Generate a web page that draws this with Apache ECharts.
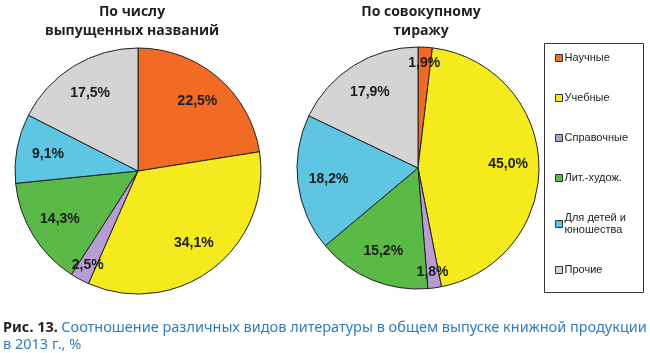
<!DOCTYPE html>
<html><head><meta charset="utf-8">
<script src="https://cdn.jsdelivr.net/npm/echarts@6/dist/echarts.min.js"></script>
<style>html,body{margin:0;padding:0;background:#fff}#c{width:650px;height:353px}</style>
</head><body><div id="c"></div>
<script>
const categories = ['Научные', 'Учебные', 'Справочные', 'Лит.-худож.', 'Для детей и\nюношества', 'Прочие'];
const titlesValues = [22.5, 34.1, 2.5, 14.3, 9.1, 17.5];
const circulationValues = [1.9, 45.0, 1.8, 15.2, 18.2, 17.9];
const colors = ['#F26B25', '#F4EA1E', '#B79DD2', '#5AB947', '#5EC6E2', '#D4D4D4'];
const pieTitles = ['По числу\nвыпущенных названий', 'По совокупному\nтиражу'];
const captionBold = 'Рис. 13.';
const captionText = 'Соотношение различных видов литературы в общем выпуске книжной продукции';
const captionText2 = 'в 2013 г., %';

const ARIAL = "'Liberation Sans', Arimo, Arial, sans-serif";

const pies = [
  {values: titlesValues, center: [138, 171], r: 123},
  {values: circulationValues, center: [418, 168], r: 121}
];

const series = [];
pies.forEach((p, idx) => {
  series.push({
    type: 'pie', name: 'pie' + idx, center: p.center, radius: [0, p.r],
    startAngle: 90, clockwise: true, avoidLabelOverlap: false,
    label: {show: false}, labelLine: {show: false},
    itemStyle: {borderColor: '#222', borderWidth: 1},
    emphasis: {disabled: true},
    data: categories.map((c, i) => ({name: c, value: p.values[i], itemStyle: {color: colors[i]}}))
  });
  // transparent label layers: normal slices and very small slices
  [[1.44, v => v >= 3], [1.68, v => v < 3]].forEach(([k, cond]) => {
    series.push({
      type: 'pie', center: p.center, radius: [0, p.r * k], silent: true,
      startAngle: 90, clockwise: true, avoidLabelOverlap: false,
      legendHoverLink: false, z: 5,
      itemStyle: {color: 'rgba(0,0,0,0)', borderWidth: 0},
      labelLine: {show: false},
      emphasis: {disabled: true},
      data: categories.map((c, i) => ({
        name: c, value: p.values[i],
        label: {show: cond(p.values[i]), position: 'inside',
          formatter: p.values[i].toFixed(1).replace('.', ',') + '%',
          fontFamily: ARIAL, fontWeight: 'bold',
          fontSize: 14, color: '#1c1c1c'}
      }))
    });
  });
});

const chart = echarts.init(document.getElementById('c'), null, {renderer: 'canvas'});
chart.setOption({
  animation: false,
  backgroundColor: '#fff',
  color: colors,
  title: [
    {text: pieTitles[0], left: 127, top: -2, textAlign: 'center',
     textStyle: {fontFamily: "'Open Sans', sans-serif", fontWeight: 'bold', fontSize: 14, color: '#231f20', lineHeight: 19}},
    {text: pieTitles[1], left: 416, top: -2, textAlign: 'center',
     textStyle: {fontFamily: "'Open Sans', sans-serif", fontWeight: 'bold', fontSize: 14, color: '#231f20', lineHeight: 19}}
  ],
  legend: {
    data: categories, orient: 'vertical', left: 555, top: 52,
    icon: 'rect', itemWidth: 7, itemHeight: 7, itemGap: 28,
    selectedMode: false, padding: 0,
    textStyle: {fontFamily: ARIAL, fontSize: 11, color: '#222', padding: [0, 0, 0, -3], lineHeight: 12},
    itemStyle: {borderColor: '#333', borderWidth: 1}
  },
  graphic: [
    {type: 'rect', shape: {x: 544.5, y: 43.5, width: 99, height: 249}, style: {fill: 'none', stroke: '#333', lineWidth: 1}, silent: true},
    {type: 'text', left: 3, top: 320, silent: true,
     style: {
       text: '{b|' + captionBold + '} {n|' + captionText + '}\n{n|' + captionText2 + '}',
       rich: {
         b: {fontFamily: "'Noto Sans', sans-serif", fontWeight: 'bold', fontSize: 14.5, fill: '#231f20', lineHeight: 17},
         n: {fontFamily: "'Noto Sans', sans-serif", fontSize: 14.5, fill: '#2f7dc0', lineHeight: 17}
       }
     }}
  ],
  series: series
});
</script></body></html>
